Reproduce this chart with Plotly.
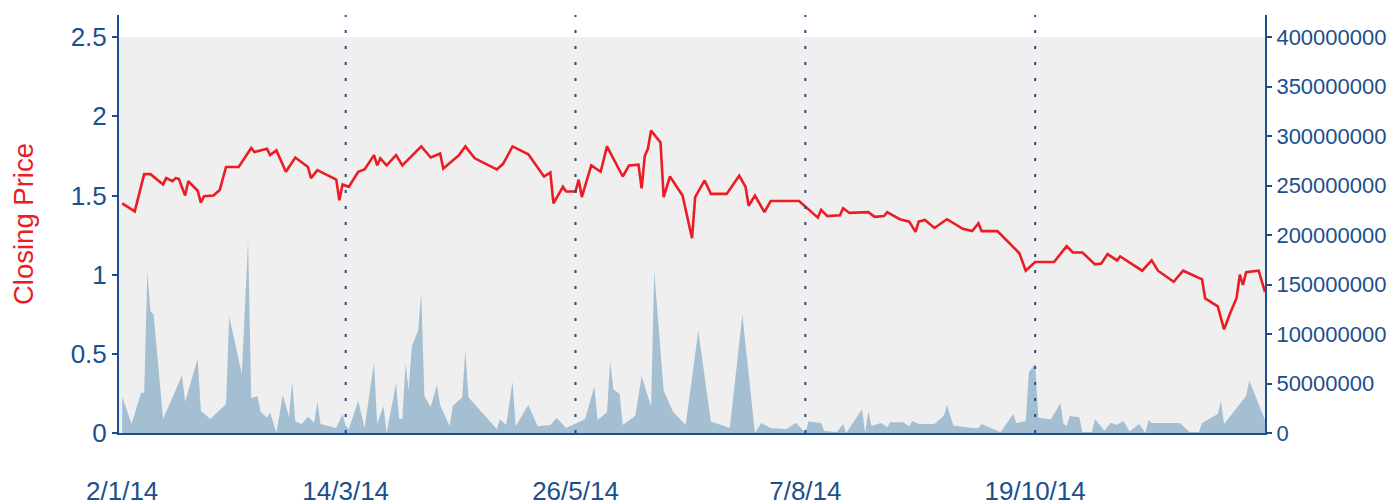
import plotly.graph_objects as go

# Closing price series
price_dates = [
    "2014-01-02", "2014-01-06", "2014-01-09", "2014-01-11", "2014-01-15", "2014-01-16",
    "2014-01-18", "2014-01-19", "2014-01-20", "2014-01-22", "2014-01-23", "2014-01-26",
    "2014-01-27", "2014-01-28", "2014-01-31", "2014-02-02", "2014-02-04", "2014-02-08",
    "2014-02-12", "2014-02-13", "2014-02-17", "2014-02-18", "2014-02-20", "2014-02-23",
    "2014-02-26", "2014-03-02", "2014-03-03", "2014-03-05", "2014-03-11", "2014-03-12",
    "2014-03-13", "2014-03-15", "2014-03-18", "2014-03-20", "2014-03-23", "2014-03-24",
    "2014-03-25", "2014-03-27", "2014-03-30", "2014-04-01", "2014-04-07", "2014-04-10",
    "2014-04-13", "2014-04-14", "2014-04-19", "2014-04-21", "2014-04-24", "2014-05-01",
    "2014-05-03", "2014-05-06", "2014-05-11", "2014-05-16", "2014-05-18", "2014-05-19",
    "2014-05-22", "2014-05-23", "2014-05-26", "2014-05-27", "2014-05-28", "2014-05-31",
    "2014-06-03", "2014-06-05", "2014-06-10", "2014-06-12", "2014-06-15", "2014-06-16",
    "2014-06-17", "2014-06-18", "2014-06-19", "2014-06-22", "2014-06-23", "2014-06-25",
    "2014-06-29", "2014-07-02", "2014-07-03", "2014-07-06", "2014-07-08", "2014-07-13",
    "2014-07-17", "2014-07-19", "2014-07-20", "2014-07-22", "2014-07-25", "2014-07-27",
    "2014-08-05", "2014-08-11", "2014-08-12", "2014-08-14", "2014-08-18", "2014-08-19",
    "2014-08-21", "2014-08-27", "2014-08-29", "2014-09-01", "2014-09-02", "2014-09-06",
    "2014-09-09", "2014-09-11", "2014-09-12", "2014-09-14", "2014-09-17", "2014-09-21",
    "2014-09-26", "2014-09-29", "2014-10-01", "2014-10-02", "2014-10-07", "2014-10-14",
    "2014-10-16", "2014-10-19", "2014-10-25", "2014-10-29", "2014-10-31", "2014-11-03",
    "2014-11-07", "2014-11-09", "2014-11-11", "2014-11-14", "2014-11-15", "2014-11-22",
    "2014-11-25", "2014-11-27", "2014-12-02", "2014-12-05", "2014-12-11", "2014-12-12",
    "2014-12-16", "2014-12-18", "2014-12-20", "2014-12-22", "2014-12-23", "2014-12-24",
    "2014-12-25", "2014-12-29", "2014-12-31",
]
closing_price = [
    1.45, 1.40, 1.635, 1.635, 1.57, 1.61,
    1.59, 1.61, 1.605, 1.50, 1.59, 1.53,
    1.455, 1.495, 1.50, 1.535, 1.68, 1.68,
    1.80, 1.775, 1.795, 1.755, 1.785, 1.65,
    1.74, 1.68, 1.61, 1.66, 1.60, 1.47,
    1.57, 1.555, 1.65, 1.665, 1.755, 1.69,
    1.735, 1.69, 1.755, 1.69, 1.81, 1.74,
    1.765, 1.67, 1.755, 1.81, 1.735, 1.665,
    1.70, 1.81, 1.76, 1.62, 1.645, 1.45,
    1.555, 1.525, 1.525, 1.60, 1.49, 1.69,
    1.65, 1.81, 1.62, 1.69, 1.695, 1.545,
    1.75, 1.795, 1.91, 1.835, 1.49, 1.62,
    1.50, 1.23, 1.49, 1.595, 1.51, 1.51,
    1.625, 1.555, 1.435, 1.50, 1.395, 1.465,
    1.465, 1.36, 1.41, 1.37, 1.375, 1.42,
    1.39, 1.395, 1.365, 1.37, 1.395, 1.35,
    1.335, 1.27, 1.335, 1.345, 1.295, 1.35,
    1.29, 1.275, 1.325, 1.275, 1.275, 1.135,
    1.025, 1.08, 1.08, 1.18, 1.14, 1.14,
    1.065, 1.07, 1.13, 1.09, 1.115, 1.025,
    1.09, 1.025, 0.955, 1.025, 0.97, 0.85,
    0.80, 0.655, 0.76, 0.855, 1.00, 0.935,
    1.015, 1.025, 0.89,
]

# Volume series (millions)
volume_dates = [
    "2014-01-02", "2014-01-05", "2014-01-08", "2014-01-09", "2014-01-10", "2014-01-11",
    "2014-01-12", "2014-01-15", "2014-01-19", "2014-01-21", "2014-01-22", "2014-01-26",
    "2014-01-27", "2014-01-30", "2014-02-04", "2014-02-05", "2014-02-09", "2014-02-11",
    "2014-02-12", "2014-02-14", "2014-02-15", "2014-02-17", "2014-02-18", "2014-02-20",
    "2014-02-22", "2014-02-24", "2014-02-25", "2014-02-26", "2014-02-28", "2014-03-02",
    "2014-03-04", "2014-03-05", "2014-03-06", "2014-03-11", "2014-03-13", "2014-03-14",
    "2014-03-15", "2014-03-18", "2014-03-20", "2014-03-23", "2014-03-24", "2014-03-26",
    "2014-03-27", "2014-03-30", "2014-03-31", "2014-04-01", "2014-04-02", "2014-04-03",
    "2014-04-04", "2014-04-06", "2014-04-07", "2014-04-08", "2014-04-10", "2014-04-12",
    "2014-04-13", "2014-04-16", "2014-04-17", "2014-04-20", "2014-04-21", "2014-04-22",
    "2014-05-01", "2014-05-02", "2014-05-04", "2014-05-06", "2014-05-07", "2014-05-11",
    "2014-05-14", "2014-05-18", "2014-05-20", "2014-05-23", "2014-05-29", "2014-06-01",
    "2014-06-02", "2014-06-05", "2014-06-06", "2014-06-07", "2014-06-09", "2014-06-10",
    "2014-06-14", "2014-06-16", "2014-06-19", "2014-06-20", "2014-06-23", "2014-06-26",
    "2014-06-30", "2014-07-04", "2014-07-08", "2014-07-14", "2014-07-18", "2014-07-22",
    "2014-07-24", "2014-07-27", "2014-08-01", "2014-08-04", "2014-08-07", "2014-08-08",
    "2014-08-12", "2014-08-13", "2014-08-17", "2014-08-19", "2014-08-20", "2014-08-25",
    "2014-08-26", "2014-08-27", "2014-08-28", "2014-08-31", "2014-09-02", "2014-09-03",
    "2014-09-07", "2014-09-09", "2014-09-10", "2014-09-12", "2014-09-17", "2014-09-20",
    "2014-09-21", "2014-09-23", "2014-09-29", "2014-10-01", "2014-10-02", "2014-10-08",
    "2014-10-12", "2014-10-13", "2014-10-16", "2014-10-17", "2014-10-19", "2014-10-20",
    "2014-10-24", "2014-10-27", "2014-10-28", "2014-10-29", "2014-10-30", "2014-11-02",
    "2014-11-03", "2014-11-06", "2014-11-07", "2014-11-10", "2014-11-12", "2014-11-14",
    "2014-11-16", "2014-11-18", "2014-11-21", "2014-11-23", "2014-11-24", "2014-11-25",
    "2014-12-04", "2014-12-07", "2014-12-10", "2014-12-11", "2014-12-16", "2014-12-17",
    "2014-12-18", "2014-12-25", "2014-12-26", "2014-12-31",
]
volume_millions = [
    36.8, 9.1, 40.8, 40.8, 163, 123,
    119.5, 14.2, 43.5, 58, 31.7, 75,
    22.6, 14.2, 29.4, 117.8, 59.7, 193.7,
    35.1, 37.5, 21.6, 15.5, 20.6, 0,
    38.5, 16.5, 52, 11.5, 9.1, 16.5,
    10.4, 31.7, 9.1, 5.1, 19.2, 7.4,
    4.1, 32.7, 5.1, 71.2, 9.1, 27.3,
    0, 50.3, 14.2, 14.2, 70.6, 43.5,
    87.4, 103.6, 141.5, 37.5, 26.6, 48.6,
    28.4, 7.1, 27.3, 36.2, 83.3, 36.2,
    4.1, 13.9, 8.1, 52, 6.7, 28.4,
    6.7, 8.1, 15.2, 5.1, 13.9, 46.9,
    13.2, 21, 73.2, 44.3, 39.5, 8.1,
    17.5, 57.7, 26.6, 163.4, 42.8, 21.6,
    8.1, 103.3, 11.5, 5.1, 119.5, 0,
    10.1, 5.1, 4.1, 10.4, 0, 11.5,
    10.1, 2, 1, 9.1, 0, 24,
    0, 22.3, 7.1, 10.1, 6.1, 10.8,
    10.8, 6.7, 12.2, 9, 9, 17.4,
    28.4, 7.7, 5.1, 5.1, 9, 0.7,
    19.2, 10.1, 12.2, 61.5, 69.9, 15.5,
    13.9, 30.1, 9.1, 7.1, 17.2, 15.9,
    1, 1, 13.9, 2.3, 10.4, 8.1,
    12.2, 1.6, 9.1, 0, 13.2, 10.1,
    10.1, 1, 1, 10.1, 19.2, 32.4,
    9.1, 37.5, 53, 13.2,
]
volume = [v * 1e6 for v in volume_millions]

# Axis ticks
x_tick_dates = ["2014-01-02", "2014-03-14", "2014-05-26", "2014-08-07", "2014-10-19"]
x_tick_labels = ["2/1/14", "14/3/14", "26/5/14", "7/8/14", "19/10/14"]
price_ticks = [0, 0.5, 1, 1.5, 2, 2.5]
price_tick_labels = ["0", "0.5", "1", "1.5", "2", "2.5"]
volume_ticks = [0, 50e6, 100e6, 150e6, 200e6, 250e6, 300e6, 350e6, 400e6]
volume_tick_labels = ["0", "50000000", "100000000", "150000000", "200000000",
                      "250000000", "300000000", "350000000", "400000000"]

AXIS_BLUE = "#1b4f8d"
RED = "#ec1c24"
FONT = "Liberation Sans, Arial, Helvetica, sans-serif"

fig = go.Figure()

fig.add_trace(go.Scatter(
    x=volume_dates, y=volume, yaxis="y2", mode="lines",
    line=dict(width=0, color="#a5bfd2"), fill="tozeroy", fillcolor="#a5bfd2",
    hoverinfo="skip", showlegend=False,
))
fig.add_trace(go.Scatter(
    x=price_dates, y=closing_price, mode="lines",
    line=dict(color=RED, width=2.6), showlegend=False,
))

# Shaded band behind the plot (0 to 2.5 on price axis)
fig.add_shape(type="rect", xref="paper", x0=0, x1=1, yref="y", y0=0, y1=2.5,
              fillcolor="#efefef", line=dict(width=0), layer="below")

# Dotted vertical lines at inner date ticks
for d in x_tick_dates[1:]:
    fig.add_shape(type="line", xref="x", x0=d, x1=d, yref="paper", y0=0, y1=1,
                  line=dict(color=AXIS_BLUE, width=2, dash="3px,13px"), layer="above")

fig.update_layout(
    width=1389, height=504,
    margin=dict(l=119, r=124, t=15, b=71, autoexpand=False),
    paper_bgcolor="white", plot_bgcolor="white",
    font=dict(family=FONT, size=22, color=AXIS_BLUE),
    hovermode=False,
    xaxis=dict(
        type="date", range=["2014-01-01", "2014-12-31"],
        tickvals=x_tick_dates, ticktext=x_tick_labels,
        showgrid=False, zeroline=False, automargin=False,
        showline=True, linecolor=AXIS_BLUE, linewidth=2,
        ticks="", ticklabelstandoff=34,
        tickfont=dict(size=26, color=AXIS_BLUE),
    ),
    yaxis=dict(
        range=[0, 2.64], tickvals=price_ticks, ticktext=price_tick_labels,
        showgrid=False, zeroline=False, automargin=False,
        showline=True, linecolor=AXIS_BLUE, linewidth=2,
        ticks="outside", ticklen=5, tickwidth=2, tickcolor=AXIS_BLUE,
        tickfont=dict(size=26, color=AXIS_BLUE),
        title=dict(text="Closing Price", font=dict(size=27.5, color=RED), standoff=29),
    ),
    yaxis2=dict(
        range=[0, 422.4e6], overlaying="y", side="right",
        tickvals=volume_ticks, ticktext=volume_tick_labels,
        showgrid=False, zeroline=False, automargin=False,
        showline=True, linecolor=AXIS_BLUE, linewidth=2,
        ticks="outside", ticklen=5, tickwidth=2, tickcolor=AXIS_BLUE,
        tickfont=dict(size=22, color=AXIS_BLUE),
    ),
)

fig.write_html(
    "out.html",
    config={"displayModeBar": False},
    post_script="document.body.style.margin='0';document.body.style.overflow='hidden';",
)
